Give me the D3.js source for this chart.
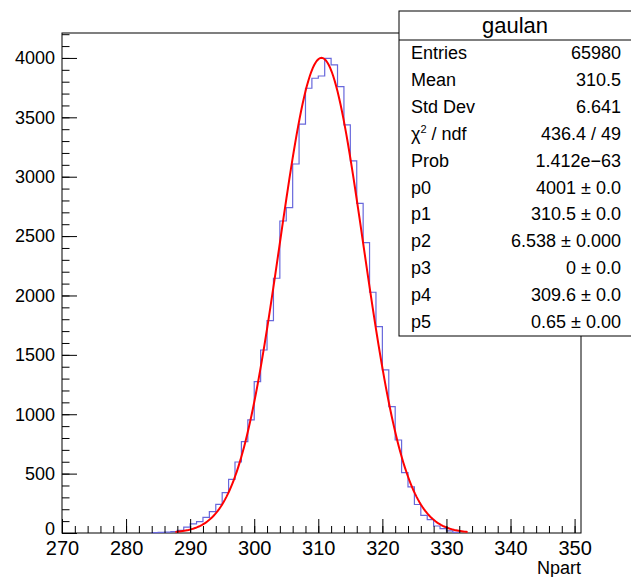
<!DOCTYPE html>
<html>
<head>
<meta charset="utf-8">
<script src="https://cdn.jsdelivr.net/npm/d3@7"></script>
<style>
  body { margin: 0; background: #ffffff; }
  svg { display: block; }
  text { font-family: "Liberation Sans", Arial, Helvetica, sans-serif; fill: #000; }
</style>
</head>
<body>
<svg id="chart" width="631" height="577"></svg>
<script>
// Npart histogram: unit-width bins, first filled bin starts at 284
const binStart = 284;
const binCounts = [
  3, 5, 8, 12, 22, 50, 76, 95, 132, 180,          // 284-293
  241, 340, 452, 598, 769, 952, 1274, 1541, 1788, 2145, // 294-303
  2627, 2740, 3107, 3442, 3745, 3829, 3848, 3997, 3941, 3758, // 304-313
  3436, 3133, 2776, 2445, 2027, 1737, 1373, 1064, 783, 508,  // 314-323
  388, 240, 148, 112, 59, 37, 18, 6                 // 324-331
];

// gaus(p0,p1,p2) + p3*landau(p4,p5)
const fitParams = [4001, 310.5, 6.538, 0, 309.6, 0.65];
const fitRange = [287.7, 333.3];

const xDomain = [270, 351];
const yDomain = [0, 4210];
const xTickValues = [270, 280, 290, 300, 310, 320, 330, 340, 350];
const yTickValues = [0, 500, 1000, 1500, 2000, 2500, 3000, 3500, 4000];
const xTitle = "Npart";

const statsTitle = "gaulan";
const statsLabels = ["Entries", "Mean", "Std Dev", "chi2", "Prob", "p0", "p1", "p2", "p3", "p4", "p5"];
const statsValues = ["65980", "310.5", "6.641", "436.4 / 49", "1.412e\u221263",
  "4001 \u00b1 0.0", "310.5 \u00b1 0.0", "6.538 \u00b1 0.000", "0 \u00b1 0.0",
  "309.6 \u00b1 0.0", "0.65 \u00b1 0.00"];

const frame = { left: 62, right: 581, top: 33, bottom: 533 };
const svg = d3.select("#chart");

const x = d3.scaleLinear().domain(xDomain).range([frame.left, frame.right]);
const y = d3.scaleLinear().domain(yDomain).range([frame.bottom, frame.top]);

// frame box
svg.append("rect")
  .attr("x", frame.left).attr("y", frame.top)
  .attr("width", frame.right - frame.left).attr("height", frame.bottom - frame.top)
  .attr("fill", "none").attr("stroke", "#000").attr("stroke-width", 1);

// histogram outline as steps
const steps = [[binStart, 0]];
binCounts.forEach((c, i) => {
  steps.push([binStart + i, c]);
  steps.push([binStart + i + 1, c]);
});
steps.push([binStart + binCounts.length, 0]);

svg.append("path")
  .datum(steps)
  .attr("fill", "none")
  .attr("stroke", "#6868dc")
  .attr("stroke-width", 1.2)
  .attr("d", d3.line().x(d => x(d[0])).y(d => y(d[1])));

// fitted function
function landauApprox(v, mpv, sigma) {
  const l = (v - mpv) / sigma;
  return Math.exp(-0.5 * (l + Math.exp(-l)));
}
function fitFunc(v) {
  const [p0, p1, p2, p3, p4, p5] = fitParams;
  const g = p0 * Math.exp(-0.5 * Math.pow((v - p1) / p2, 2));
  return g + (p3 !== 0 ? p3 * landauApprox(v, p4, p5) : 0);
}
const nSamples = 200;
const fitPts = d3.range(nSamples + 1).map(k => {
  const v = fitRange[0] + (fitRange[1] - fitRange[0]) * k / nSamples;
  return [v, fitFunc(v)];
});
svg.append("path")
  .datum(fitPts)
  .attr("fill", "none")
  .attr("stroke", "#ff0000")
  .attr("stroke-width", 2)
  .attr("d", d3.line().x(d => x(d[0])).y(d => y(d[1])));

// axes: ticks point into the frame
const yMinor = d3.range(0, yDomain[1] + 1, 100);
svg.append("g")
  .attr("transform", `translate(${frame.left},0)`)
  .call(d3.axisLeft(y).tickValues(yMinor).tickSize(-7.5).tickSizeOuter(0).tickFormat(""))
  .call(g => g.select(".domain").remove());
svg.append("g")
  .attr("transform", `translate(${frame.left},0)`)
  .call(d3.axisLeft(y).tickValues(yTickValues).tickSize(-15).tickSizeOuter(0).tickPadding(7).tickFormat(d3.format("d")))
  .call(g => g.select(".domain").remove())
  .call(g => g.selectAll("text").attr("font-size", 18).attr("font-family", null))
  .call(g => g.selectAll(".tick").filter(d => d === 0).select("text").attr("dy", "0.1em"))
  .call(g => g.selectAll("line").attr("stroke", "#000"));

const xMinor = d3.range(xDomain[0], xDomain[1], 2);
svg.append("g")
  .attr("transform", `translate(0,${frame.bottom})`)
  .call(d3.axisBottom(x).tickValues(xMinor).tickSize(-7).tickSizeOuter(0).tickFormat(""))
  .call(g => g.select(".domain").remove());
svg.append("g")
  .attr("transform", `translate(0,${frame.bottom})`)
  .call(d3.axisBottom(x).tickValues(xTickValues).tickSize(-14).tickSizeOuter(0).tickPadding(8).tickFormat(d3.format("d")))
  .call(g => g.select(".domain").remove())
  .call(g => g.selectAll("text").attr("font-size", 20).attr("font-family", null))
  .call(g => g.selectAll("line").attr("stroke", "#000"));

svg.append("text")
  .attr("x", frame.right).attr("y", 574)
  .attr("text-anchor", "end")
  .attr("font-size", 18)
  .text(xTitle);

// statistics box
const box = { x: 399, y: 11, w: 240, h: 325, titleH: 29, rowH: 26.9 };
const sb = svg.append("g");
sb.append("rect")
  .attr("x", box.x).attr("y", box.y).attr("width", box.w).attr("height", box.h)
  .attr("fill", "#fff").attr("stroke", "#000").attr("stroke-width", 1);
sb.append("line")
  .attr("x1", box.x).attr("x2", box.x + box.w)
  .attr("y1", box.y + box.titleH).attr("y2", box.y + box.titleH)
  .attr("stroke", "#000");
sb.append("text")
  .attr("x", 515).attr("y", box.y + 22)
  .attr("text-anchor", "middle").attr("font-size", 22)
  .text(statsTitle);

statsLabels.forEach((lab, i) => {
  const cy = 53 + i * box.rowH;
  const t = sb.append("text")
    .attr("x", 411).attr("y", cy + 6)
    .attr("font-size", 18);
  if (lab === "chi2") {
    t.append("tspan").text("\u03c7");
    t.append("tspan").attr("font-size", 11).attr("dy", -7).text("2");
    t.append("tspan").attr("dy", 7).text(" / ndf");
  } else {
    t.text(lab);
  }
  sb.append("text")
    .attr("x", 621).attr("y", cy + 6)
    .attr("text-anchor", "end").attr("font-size", 18)
    .text(statsValues[i]);
});
</script>
</body>
</html>
